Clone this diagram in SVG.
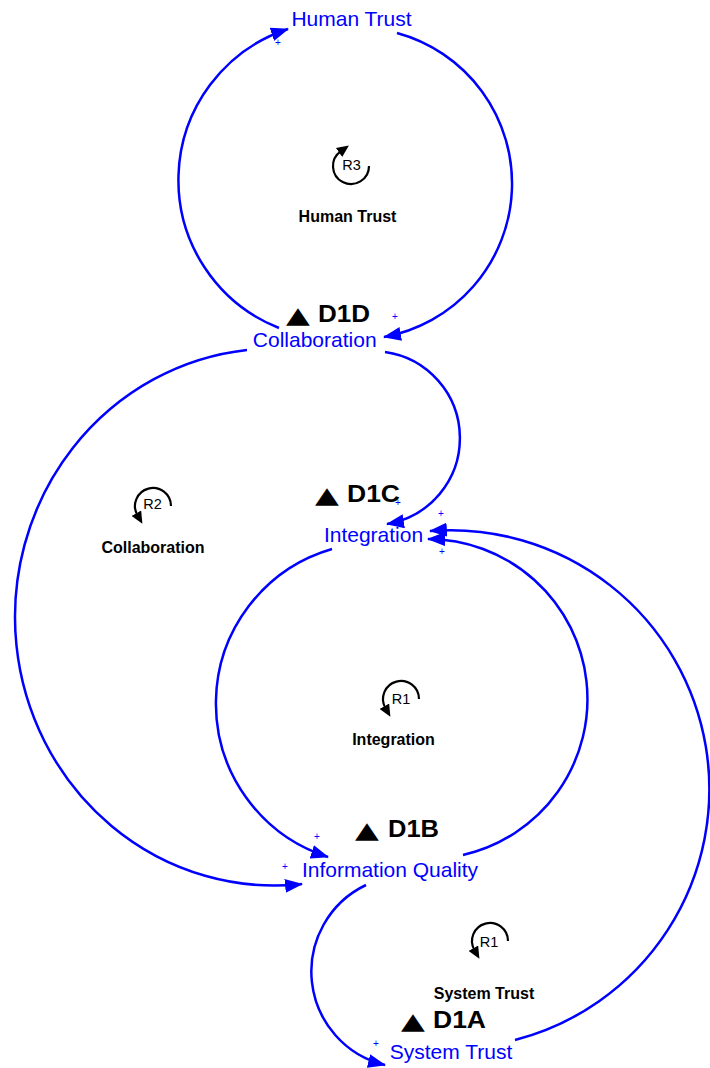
<svg xmlns="http://www.w3.org/2000/svg" width="710" height="1068" viewBox="0 0 710 1068">
  <style>
    .node { font-family: "Liberation Sans", Arial, sans-serif; font-size: 21px; fill: #0000ff; text-anchor: middle; }
    .tag { font-family: "Liberation Sans", Arial, sans-serif; font-size: 24px; font-weight: bold; fill: #000; }
    .mark { font-family: "DejaVu Sans", sans-serif; font-size: 23px; fill: #000; }
    .link { fill: none; stroke: #0000ff; stroke-width: 2.5; marker-end: url(#arrow); }
    .pol { font-family: "Liberation Sans", Arial, sans-serif; font-size: 10px; fill: #0000ff; text-anchor: middle; }
    .loop { fill: none; stroke: #000; stroke-width: 2.2; marker-end: url(#loopArrow); }
    .loopId { font-family: "Liberation Sans", Arial, sans-serif; font-size: 14.5px; fill: #000; text-anchor: middle; }
    .loopName { font-family: "Liberation Sans", Arial, sans-serif; font-size: 16px; font-weight: bold; fill: #000; text-anchor: middle; }
  </style>
  <defs>
    <marker id="arrow" viewBox="0 0 18 14" refX="17" refY="7" markerWidth="18" markerHeight="14" markerUnits="userSpaceOnUse" orient="auto">
      <path d="M0,0 L18,7 L0,14 z" fill="#0000ff"/>
    </marker>
    <marker id="loopArrow" viewBox="0 0 12 11" refX="2" refY="5.5" markerWidth="12" markerHeight="11" markerUnits="userSpaceOnUse" orient="auto">
      <path d="M0,0 L12,5.5 L0,11 z" fill="#000"/>
    </marker>
  </defs>

  <!-- causal links -->
  <g id="connectors">
    <path class="link" d="M279,328 A159,159 0 0 1 288,29"/>
    <path class="link" d="M397,33 A156,156 0 0 1 384,337"/>
    <path class="link" d="M385,352 A87,87 0 0 1 387,524"/>
    <path class="link" d="M247,350 A259,268 0 0 0 302,884"/>
    <path class="link" d="M332,549 A161,161 0 0 0 328,857"/>
    <path class="link" d="M463,855 A160,160 0 0 0 428,539"/>
    <path class="link" d="M366,885 A96,96 0 0 0 385,1065"/>
    <path class="link" d="M515,1040 A259,259 0 0 0 430,531"/>
    <g id="polarities">
      <text class="pol" x="278" y="46">+</text>
      <text class="pol" x="395" y="320">+</text>
      <text class="pol" x="398" y="505.5">+</text>
      <text class="pol" x="441" y="516.5">+</text>
      <text class="pol" x="442" y="554.5">+</text>
      <text class="pol" x="317" y="839.5">+</text>
      <text class="pol" x="285" y="869.5">+</text>
      <text class="pol" x="376" y="1046.5">+</text>
    </g>
  </g>

  <!-- variables -->
  <g id="human-trust">
    <text class="node" x="351.5" y="26">Human Trust</text>
  </g>
  <g id="collaboration">
    <text class="mark" transform="translate(286,323) scale(1.35,1)">▲</text>
    <text class="tag" x="318" y="322" textLength="52" lengthAdjust="spacingAndGlyphs">D1D</text>
    <text class="node" x="314.7" y="347">Collaboration</text>
  </g>
  <g id="integration">
    <text class="mark" transform="translate(315,503) scale(1.35,1)">▲</text>
    <text class="tag" x="347" y="502" textLength="53" lengthAdjust="spacingAndGlyphs">D1C</text>
    <text class="node" x="373.5" y="542">Integration</text>
  </g>
  <g id="information-quality">
    <text class="mark" transform="translate(355,838) scale(1.35,1)">▲</text>
    <text class="tag" x="388" y="837" textLength="51" lengthAdjust="spacingAndGlyphs">D1B</text>
    <text class="node" x="390" y="877">Information Quality</text>
  </g>
  <g id="system-trust">
    <text class="mark" transform="translate(401,1029) scale(1.35,1)">▲</text>
    <text class="tag" x="433" y="1028" textLength="53" lengthAdjust="spacingAndGlyphs">D1A</text>
    <text class="node" x="451" y="1059">System Trust</text>
  </g>

  <!-- feedback loop markers -->
  <g id="loop-r3">
    <path class="loop" d="M369,166 A18,18 0 1 1 340.7,151.3"/>
    <text class="loopId" x="351.5" y="170">R3</text>
    <text class="loopName" x="347.5" y="222">Human Trust</text>
  </g>
  <g id="loop-r2">
    <path class="loop" d="M171,506 A18,18 0 1 0 137.4,515"/>
    <text class="loopId" x="152.5" y="509">R2</text>
    <text class="loopName" x="153" y="553">Collaboration</text>
  </g>
  <g id="loop-r1-integration">
    <path class="loop" d="M419,699 A18,18 0 1 0 385.4,708"/>
    <text class="loopId" x="401" y="704">R1</text>
    <text class="loopName" x="393.5" y="745">Integration</text>
  </g>
  <g id="loop-r1-system-trust">
    <path class="loop" d="M508,941 A18,18 0 1 0 474.4,950"/>
    <text class="loopId" x="489" y="947">R1</text>
    <text class="loopName" x="484" y="999">System Trust</text>
  </g>
</svg>
